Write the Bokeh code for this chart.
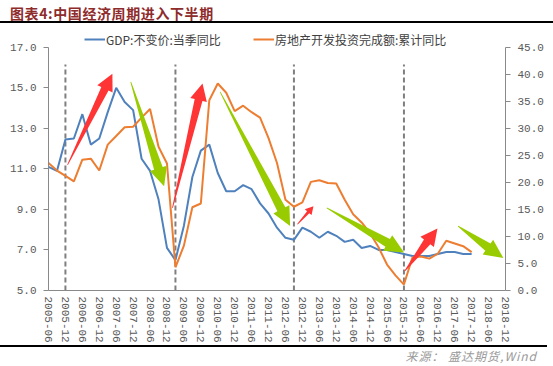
import math
from bokeh.plotting import figure
from bokeh.layouts import column
from bokeh.models import (Range1d, LinearAxis, FixedTicker, Legend, LegendItem,
                          PolyAnnotation, ColumnDataSource, Div)
from bokeh.embed import file_html
from bokeh.resources import INLINE

# ---------------- data ----------------
quarters = [f"{y}-{m:02d}" for y in range(2005, 2019) for m in (3, 6, 9, 12)][1:]  # 2005-06 .. 2018-12

gdp = [11.1, 10.9, 12.45, 12.5, 13.7, 12.2, 12.5, 13.8, 15.0, 14.3, 13.9,
       11.5, 10.9, 9.5, 7.1, 6.5, 8.2, 10.6, 11.9, 12.2, 10.8, 9.9, 9.9,
       10.2, 10.0, 9.3, 8.8, 8.1, 7.6, 7.5, 8.1, 7.9, 7.6, 7.9, 7.7,
       7.4, 7.5, 7.1, 7.2, 7.0, 7.0, 6.9, 6.8, 6.7, 6.7, 6.7, 6.8,
       6.9, 6.9, 6.8, 6.8]

re_invest = [23.6, 22.2, 21.2, 20.2, 24.2, 24.4, 22.2, 27.0, 28.6, 30.2, 30.3,
             32.0, 33.6, 26.6, 23.5, 4.3, 8.3, 15.4, 16.1, 35.2, 38.3, 36.6, 33.2,
             34.2, 33.0, 32.0, 28.2, 23.6, 16.8, 15.5, 16.3, 20.1, 20.4, 19.9, 19.8,
             16.8, 14.1, 12.6, 10.6, 8.0, 4.8, 2.8, 1.1, 6.1, 6.3, 5.9, 6.8,
             9.2, 8.7, 8.2, 7.1]

tick_labels = ["2005-06", "2005-12", "2006-06", "2006-12", "2007-06", "2007-12",
               "2008-06", "2008-12", "2009-06", "2009-12", "2010-06", "2010-12",
               "2011-06", "2011-12", "2012-06", "2012-12", "2013-06", "2013-12",
               "2014-06", "2014-12", "2015-06", "2015-12", "2016-06", "2016-12",
               "2017-06", "2017-12", "2018-06", "2018-12"]

cycle_marks = ["2005-12", "2009-03", "2012-09", "2015-12"]

left_ticks = [5, 7, 9, 11, 13, 15, 17]
right_ticks = [0, 5, 10, 15, 20, 25, 30, 35, 40, 45]

# arrows: (x_start, y_start, x_end, y_end) in quarter-index / left-axis units, kind
arrows = [
    (2.25, 11.2, 7.55, 15.7, "up"),
    (9.72, 15.29, 13.66, 10.14, "down"),
    (14.65, 9.08, 18.2, 15.21, "up"),
    (20.28, 14.8, 28.55, 8.18, "down"),
    (29.42, 8.27, 31.31, 9.16, "small"),
    (32.88, 9.08, 42.02, 6.88, "down"),
    (42.1, 5.96, 45.96, 8.06, "up"),
    (48.4, 8.18, 53.75, 6.6, "down"),
]

TITLE = "图表4:中国经济周期进入下半期"
SOURCE = "来源： 盛达期货,Wind"
LEG_GDP = "GDP:不变价:当季同比"
LEG_RE = "房地产开发投资完成额:累计同比"

# ---------------- geometry / style ----------------
W = 553
H_TOP, H_MAIN, H_BOT = 24, 321, 21
BL, BR, BB = 48, 48, 53
FW, FH = W - BL - BR, H_MAIN - BB
X0, X1 = 0, len(quarters) - 1
YL0, YL1 = 5, 17
SY = 245 / (YL1 - YL0)            # px per left-axis unit
SX = FW / (X1 - X0)
YTOP = YL0 + FH / SY
RTOP = 45 * FH / 245
DASH_TOP = 16.15

BLUE = "#4F81BD"
ORANGE = "#ED7D31"
RED = "#FF3535"
GREEN = "#99CC00"
AXIS_C = "#898989"
TICK_C = "#595959"
CJK = "Noto Sans CJK SC"
MONO = "Liberation Mono"

# ---------------- header (title + rule) ----------------
top_html = (
    f'<div style="position:relative;width:{W}px;height:{H_TOP}px;margin:0;padding:0;">'
    f'<span style="position:absolute;left:10px;top:5px;font-family:\'{CJK}\';'
    f'font-size:14px;font-weight:bold;line-height:17px;letter-spacing:0.6px;'
    f'color:#8E2B2B;white-space:nowrap;">{TITLE}</span>'
    f'<div style="position:absolute;left:0;top:21px;width:{W}px;height:2px;background:#000;"></div>'
    f'</div>'
)
ph = Div(text=top_html, width=W, height=H_TOP, margin=0)

# ---------------- main chart ----------------
idx = {q: i for i, q in enumerate(quarters)}
src = ColumnDataSource(dict(x=list(range(len(gdp))), gdp=gdp, re=re_invest))

p = figure(width=W, height=H_MAIN, output_backend="svg", toolbar_location=None,
           x_range=Range1d(X0, X1), y_range=Range1d(YL0, YTOP),
           x_axis_type=None, y_axis_type=None)
p.outline_line_color = None
p.xgrid.visible = False
p.ygrid.visible = False
p.background_fill_color = "white"
p.border_fill_color = "white"
p.min_border_left = BL
p.min_border_right = BR
p.min_border_top = 0
p.min_border_bottom = BB
p.extra_y_ranges = {"right": Range1d(0, RTOP)}

xa = LinearAxis(ticker=FixedTicker(ticks=[idx[t] for t in tick_labels]),
                major_label_overrides={idx[t]: t for t in tick_labels})
xa.major_label_orientation = "vertical"
xa.major_tick_out = 0
xa.major_tick_in = 0
xa.minor_tick_out = 0
xa.minor_tick_in = 0
xa.major_label_standoff = 6
xa.axis_line_color = AXIS_C
xa.major_label_text_font = MONO
xa.major_label_text_font_size = "11px"
xa.major_label_text_color = TICK_C
p.add_layout(xa, "below")

ya = LinearAxis(ticker=FixedTicker(ticks=left_ticks), bounds=(YL0, YL1),
                major_label_overrides={v: f"{v:.1f}" for v in left_ticks})
ya_r = LinearAxis(y_range_name="right", ticker=FixedTicker(ticks=right_ticks),
                  bounds=(0, 45),
                  major_label_overrides={v: f"{v:.1f}" for v in right_ticks})
for a in (ya, ya_r):
    a.major_tick_out = 5
    a.major_tick_in = 0
    a.minor_tick_out = 0
    a.minor_tick_in = 0
    a.major_tick_line_color = AXIS_C
    a.axis_line_color = AXIS_C
    a.major_label_standoff = 7
    a.major_label_text_font = MONO
    a.major_label_text_font_size = "11px"
    a.major_label_text_color = TICK_C
p.add_layout(ya, "left")
p.add_layout(ya_r, "right")

p.segment(x0=[idx[c] for c in cycle_marks], y0=[YL0] * len(cycle_marks),
          x1=[idx[c] for c in cycle_marks], y1=[DASH_TOP] * len(cycle_marks),
          line_color="#7F7F7F", line_width=2, line_dash="5 3")

r_gdp = p.line("x", "gdp", source=src, line_color=BLUE, line_width=2)
r_re = p.line("x", "re", source=src, line_color=ORANGE, line_width=2, y_range_name="right")

SIZES = {"up": (17, 17, 8), "down": (19, 18, 9), "small": (8, 9, 3)}


def arrow_poly(x0, y0, x1, y1, head_len, head_w, shaft_w, tail_w=0.8):
    ax, ay = x0 * SX, y0 * SY
    bx, by = x1 * SX, y1 * SY
    dx, dy = bx - ax, by - ay
    L = math.hypot(dx, dy)
    ux, uy = dx / L, dy / L
    nx, ny = -uy, ux
    cx, cy = bx - ux * head_len, by - uy * head_len
    pts = [
        (ax + nx * tail_w / 2, ay + ny * tail_w / 2),
        (cx + nx * shaft_w / 2, cy + ny * shaft_w / 2),
        (cx + nx * head_w / 2, cy + ny * head_w / 2),
        (bx, by),
        (cx - nx * head_w / 2, cy - ny * head_w / 2),
        (cx - nx * shaft_w / 2, cy - ny * shaft_w / 2),
        (ax - nx * tail_w / 2, ay - ny * tail_w / 2),
    ]
    return [q[0] / SX for q in pts], [q[1] / SY for q in pts]


for (xs0, ys0, xs1, ys1, kind) in arrows:
    hl, hw, sw = SIZES[kind]
    xs, ys = arrow_poly(xs0, ys0, xs1, ys1, hl, hw, sw)
    col = GREEN if kind == "down" else RED
    p.add_layout(PolyAnnotation(xs=xs, ys=ys, fill_color=col, fill_alpha=1.0,
                                line_color=None))


def make_legend(label, rend, vx):
    lg = Legend(items=[LegendItem(label=label, renderers=[rend])],
                location=(vx, FH - 25.7), orientation="horizontal",
                padding=0, margin=0, spacing=0,
                border_line_alpha=0, background_fill_alpha=0,
                glyph_width=21, glyph_height=14, label_height=14,
                label_standoff=1, label_text_font=CJK,
                label_text_font_size="12px", label_text_color="#404040")
    p.add_layout(lg)


make_legend(LEG_GDP, r_gdp, 36)
make_legend(LEG_RE, r_re, 205)

# ---------------- footer (rule + source) ----------------
bot_html = (
    f'<div style="position:relative;width:{W}px;height:{H_BOT}px;margin:0;padding:0;">'
    f'<div style="position:absolute;left:0;top:0;width:547px;height:1.5px;background:#000;"></div>'
    f'<span style="position:absolute;right:16px;top:3px;font-family:\'{CJK}\';'
    f'font-size:12px;font-style:italic;line-height:15px;letter-spacing:1px;'
    f'color:#9A9A9A;white-space:nowrap;">{SOURCE}</span>'
    f'</div>'
)
pb = Div(text=bot_html, width=W, height=H_BOT, margin=0)

layout = column(ph, p, pb, spacing=0)
open("out.html", "w").write(file_html(layout, INLINE))
